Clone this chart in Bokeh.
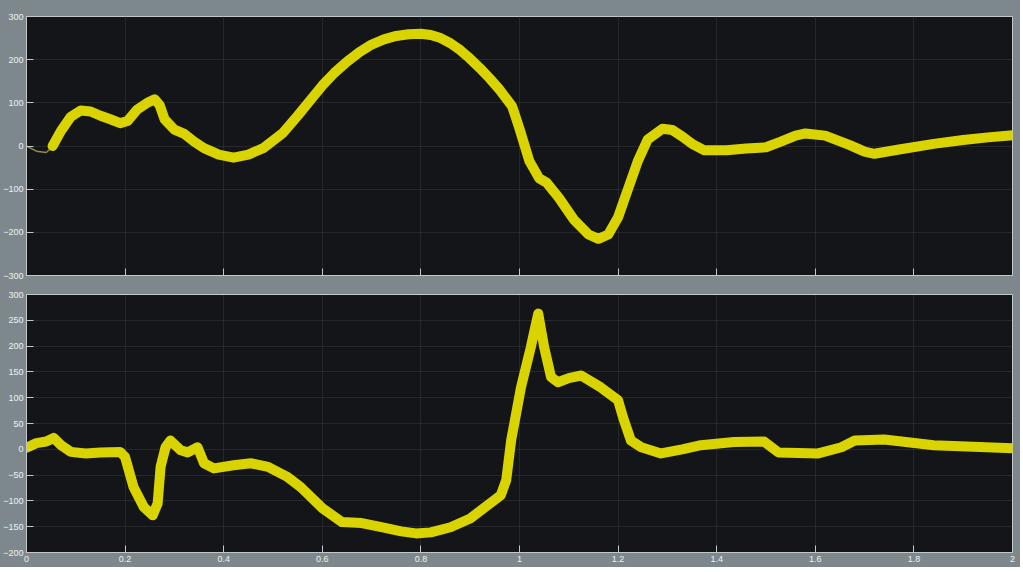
from bokeh.plotting import figure
from bokeh.layouts import column
from bokeh.models import FixedTicker, Range1d
from bokeh.embed import file_html
from bokeh.resources import INLINE

# ---- data ----
top_t = [0.053, 0.07, 0.09, 0.11, 0.13, 0.15, 0.17, 0.19, 0.205, 0.225, 0.245, 0.26, 0.27, 0.28,
         0.30, 0.32, 0.34, 0.36, 0.39, 0.42, 0.45, 0.48, 0.52, 0.55, 0.575, 0.60, 0.625, 0.65,
         0.675, 0.70, 0.725, 0.75, 0.775, 0.80, 0.82, 0.84, 0.86, 0.88, 0.90, 0.92, 0.94,
         0.96, 0.985, 1.00, 1.02, 1.04, 1.055, 1.08, 1.11, 1.14,
         1.16, 1.18, 1.20, 1.22, 1.24, 1.26, 1.29, 1.31, 1.33, 1.35, 1.375, 1.42, 1.46,
         1.50, 1.53, 1.56, 1.58, 1.62, 1.67, 1.70, 1.72, 1.77, 1.84, 1.90, 1.95, 2.0]
top_v = [0, 35, 68, 82, 80, 70, 62, 53, 58, 85, 100, 108, 95, 62,
         38, 28, 10, -5, -20, -27, -20, -5, 30, 70, 105, 140, 170, 195,
         217, 235, 247, 255, 259, 260, 257, 250, 238, 222, 202, 180, 156,
         130, 92, 40, -35, -75, -85, -120, -170, -205,
         -215, -205, -165, -100, -35, 15, 40, 37, 22, 5, -10, -10, -6,
         -3, 10, 24, 29, 24, 2, -13, -18, -8, 5, 14, 20, 25]

ref_t = [0.0, 0.02, 0.04, 0.055]
ref_v = [0, -12, -15, 0]

bot_t = [0.0, 0.02, 0.04, 0.055, 0.07, 0.09, 0.12, 0.15, 0.19, 0.2, 0.217, 0.238, 0.256,
         0.266, 0.272, 0.282, 0.292, 0.313, 0.327, 0.347, 0.36, 0.38, 0.42, 0.455, 0.49,
         0.53, 0.556, 0.6, 0.64, 0.68, 0.72, 0.76, 0.79, 0.82, 0.86, 0.9, 0.94, 0.962,
         0.973, 0.983, 1.003, 1.023, 1.038, 1.05, 1.064, 1.078, 1.1, 1.125, 1.165, 1.2,
         1.21, 1.226, 1.247, 1.287, 1.33, 1.368, 1.435, 1.496, 1.51, 1.525, 1.606, 1.653,
         1.68, 1.74, 1.84, 1.92, 2.0]
bot_v = [3, 12, 15, 22, 8, -5, -8, -6, -5, -15, -73, -112, -128,
         -105, -34, 4, 17, -2, -6, 4, -27, -37, -31, -27, -34,
         -54, -73, -114, -141, -143, -151, -159, -163, -161, -151, -134, -105, -89,
         -60, 17, 120, 198, 263, 198, 140, 130, 138, 143, 120, 95,
         62, 17, 4, -8, 0, 8, 14, 15, 5, -6, -8, 4,
         17, 19, 8, 5, 2]

x_ticks = [0, 0.2, 0.4, 0.6, 0.8, 1, 1.2, 1.4, 1.6, 1.8, 2]
x_labels = {0: "0", 0.2: "0.2", 0.4: "0.4", 0.6: "0.6", 0.8: "0.8", 1: "1",
            1.2: "1.2", 1.4: "1.4", 1.6: "1.6", 1.8: "1.8", 2: "2"}
top_y_ticks = [-300, -200, -100, 0, 100, 200, 300]
bot_y_ticks = [-200, -150, -100, -50, 0, 50, 100, 150, 200, 250, 300]

BG = "#7e888c"
PLOT_BG = "#131518"
YELLOW = "#d9d300"
LIGHT = "#c3c9cb"
FONT = "Liberation Sans"

xr = Range1d(0, 2)


def style(p, yticks):
    p.background_fill_color = PLOT_BG
    p.border_fill_color = BG
    p.outline_line_color = LIGHT
    p.outline_line_width = 1
    p.xaxis.ticker = FixedTicker(ticks=x_ticks)
    p.yaxis.ticker = FixedTicker(ticks=yticks)
    for ax in (p.xaxis, p.yaxis):
        ax.axis_line_color = LIGHT
        ax.major_tick_line_color = LIGHT
        ax.major_tick_in = 7
        ax.major_tick_out = 0
        ax.minor_tick_line_color = None
        ax.major_label_text_color = "#eef0f0"
        ax.major_label_text_font = FONT
        ax.major_label_text_font_size = "9px"
        ax.major_label_standoff = 3
    for g in (p.xgrid, p.ygrid):
        g.grid_line_color = "#474b4f"
        g.grid_line_dash = "1 1"
        g.grid_line_alpha = 0.7


top = figure(width=1020, height=285, x_range=xr, y_range=Range1d(-300, 300),
             output_backend="svg", toolbar_location=None,
             min_border_left=26, min_border_right=8, min_border_top=16, min_border_bottom=10)
style(top, top_y_ticks)
top.xaxis.major_label_overrides = {t: "" for t in x_ticks}
top.xaxis.major_label_standoff = 0
top.line(ref_t, ref_v, line_color="#8f8e4c", line_width=1.5)
top.line(top_t, top_v, line_color=YELLOW, line_width=10, line_join="round", line_cap="round")

bot = figure(width=1020, height=282, x_range=xr, y_range=Range1d(-200, 300),
             output_backend="svg", toolbar_location=None,
             min_border_left=26, min_border_right=8, min_border_top=9, min_border_bottom=15)
style(bot, bot_y_ticks)
bot.xaxis.major_label_overrides = x_labels
bot.line(bot_t, bot_v, line_color=YELLOW, line_width=10, line_join="round", line_cap="round")

layout = column(top, bot, spacing=0, background=BG)
open("out.html", "w").write(file_html(layout, INLINE))
